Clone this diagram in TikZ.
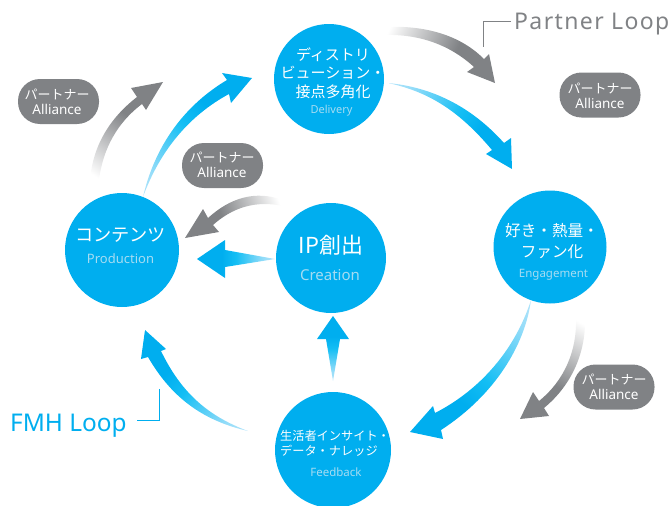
\documentclass[tikz,border=0pt]{standalone}
\usepackage{fontspec}
\setmainfont{Noto Sans}
\newfontfamily\jp{Noto Sans CJK JP}
\definecolor{cblue}{HTML}{00AEEF}
\definecolor{cbright}{HTML}{14BEF4}
\definecolor{cpale}{HTML}{B4E4FA}
\definecolor{cgray}{HTML}{808285}
\definecolor{csub}{HTML}{A6DCF2}
\pgfdeclarehorizontalshading{blueflow}{200bp}{color(0bp)=(cpale); color(15bp)=(cpale!80!cbright); color(50bp)=(cbright); color(68bp)=(cblue); color(100bp)=(cblue)}
\pgfdeclarehorizontalshading{grayflow}{200bp}{color(0bp)=(white); color(3bp)=(white); color(60bp)=(cgray); color(100bp)=(cgray)}
\newcommand\flowarrow[7]{%
  \coordinate (#2-tail) at (#3,#4);
  \coordinate (#2-tip) at (#5,#6);
  \pgfmathsetmacro\flowang{atan2(#4-(#6),(#5)-(#3))}
  \pgfmathsetmacro\flowlen{veclen((#5)-(#3),(#6)-(#4))/100}
  \begin{scope}
    \clip #7;
    \begin{scope}[shift={(#3,#4)},rotate=\flowang,xscale=\flowlen,xshift=50bp]
      \pgflowlevelsynccm
      \pgfuseshading{#1}
    \end{scope}
  \end{scope}}
\tikzset{
  stage/.style={circle,fill=cblue,draw=none,inner sep=0pt,minimum size=#1},
  pill/.style={rounded corners=22pt,fill=cgray,draw=none,inner sep=0pt,minimum width=81pt,minimum height=45pt},
  ally/.style={text=white,align=center,font=\fontsize{13.5}{15}\selectfont},
  title/.style={text=white,align=center,inner sep=0pt},
  sub/.style={text=csub,inner sep=0pt},
  leader/.style={line width=0.9pt}
}
\newcommand\ally[3]{\node[pill] (#1) at (#2) {}; \node[ally,inner sep=0pt] (#1-t) at (#3) {{\jp\fontsize{13}{15}\selectfont パートナー}\\Alliance};}
\begin{document}
\begin{tikzpicture}[x=1pt,y=-1pt]
\useasboundingbox (0,0) rectangle (672,506);
\clip (0,0) rectangle (672,506);
% stages
\node[stage=110pt] (delivery) at (329,79) {};
\node[stage=114pt] (production) at (122,250) {};
\node[stage=110pt] (creation) at (331,258) {};
\node[stage=113pt] (engagement) at (550,247) {};
\node[stage=116pt] (feedback) at (333,450) {};
% stage texts
\node[title,font=\jp\fontsize{15}{18.5}\selectfont] (delivery-t) at (333,73) {ディストリ\\ビューション・\\接点多角化};
\node[sub,font=\fontsize{11}{13}\selectfont] (delivery-s) at (331.5,111) {Delivery};
\node[title,font=\jp\fontsize{18.2}{20}\selectfont] (production-t) at (120.5,235) {コンテンツ};
\node[sub,font=\fontsize{13}{15}\selectfont] (production-s) at (120.5,258.5) {Production};
\node[title,font=\jp\fontsize{22}{24}\selectfont] (creation-t) at (331,245) {IP創出};
\node[sub,font=\fontsize{15}{17}\selectfont] (creation-s) at (330,275) {Creation};
\node[title,font=\jp\fontsize{15.6}{21}\selectfont] (engagement-t) at (552,241) {好き・熱量・\\ファン化};
\node[sub,font=\fontsize{11.5}{13}\selectfont] (engagement-s) at (553.5,275) {Engagement};
\node[title,font=\jp\fontsize{12.2}{15}\selectfont,align=left] (feedback-t) at (335,443.5) {生活者インサイト・\\データ・ナレッジ};
\node[sub,font=\fontsize{11.5}{13}\selectfont] (feedback-s) at (336,472.5) {Feedback};
% alliance pills
\ally{a1}{58.5,101.5}{57,101.5}
\ally{a2}{222.5,165.5}{222,165}
\ally{a3}{600,95}{600,96}
\ally{a4}{614,387}{614,387}
% arrows
\flowarrow{grayflow}{ga}{94}{180}{163}{82}{(90,180) .. controls (93,145) and (110,118) .. (137,97) -- (131,88) -- (163,82) -- (146,110) -- (142,104) .. controls (118,122) and (103,148) .. (99,180) -- cycle}
\flowarrow{blueflow}{ba}{143}{197}{252}{78}{(143,197) .. controls (155,145) and (185,105) .. (227,80) -- (222,73) -- (252,78) -- (231,103) -- (229,94) .. controls (190,115) and (160,150) .. (143,197) -- cycle}
\flowarrow{grayflow}{gb}{283}{203}{185}{238}{(283,200) .. controls (255,190) and (230,198) .. (208,218) -- (203,209) -- (185,238) -- (219,232) -- (213,225) .. controls (232,208) and (255,200) .. (283,206) -- cycle}
\flowarrow{blueflow}{bb}{275}{259}{197}{259}{(275,259) -- (225,250) -- (225,240) -- (197,259) -- (225,278) -- (225,267) -- cycle}
\flowarrow{blueflow}{bc}{333}{381}{333}{316}{(333,381) -- (340,339) -- (349,339) -- (333,316) -- (317,339) -- (326,339) -- cycle}
\flowarrow{blueflow}{bd}{248}{431}{145}{330}{(248,431) .. controls (200,420) and (170,395) .. (148,357) -- (141,359) -- (145,330) -- (166,349) -- (161,351) .. controls (180,390) and (205,415) .. (248,431) -- cycle}
\flowarrow{blueflow}{be}{388}{83}{512}{169}{(388,83) .. controls (430,87) and (470,105) .. (504,143) -- (511,138) -- (512,169) -- (486,154) -- (492,150) .. controls (460,112) and (430,92) .. (388,83) -- cycle}
\flowarrow{grayflow}{gc}{384}{31}{495}{83}{(384,27) .. controls (425,25) and (460,35) .. (484,59) -- (489,54) -- (495,83) -- (467,72) -- (474,67) .. controls (450,45) and (420,34) .. (384,35) -- cycle}
\flowarrow{blueflow}{bf}{531}{300}{410}{432}{(531,300) .. controls (525,345) and (495,395) .. (441,430) -- (443,439) -- (410,432) -- (433,406) -- (435,413) .. controls (480,390) and (515,350) .. (531,300) -- cycle}
\flowarrow{grayflow}{gd}{580}{318}{520}{419}{(576,318) .. controls (577,350) and (565,380) .. (539,401) -- (533,392) -- (520,419) -- (549,416) -- (544,408) .. controls (572,385) and (586,352) .. (585,318) -- cycle}
% loop labels
\node[anchor=base west,inner sep=0pt,text=cgray,font=\fontsize{23}{25}\selectfont\addfontfeature{LetterSpace=6}] (partner) at (514,29) {Partner Loop};
\coordinate (partner-end) at (483,47);
\draw[leader,cgray] (511,21) -| (partner-end);
\node[anchor=base west,inner sep=0pt,text=cblue,font=\fontsize{24.4}{27}\selectfont] (fmh) at (10,431) {FMH Loop};
\coordinate (fmh-end) at (159,389);
\draw[leader,cblue] (137,420) -| (fmh-end);
\end{tikzpicture}
\end{document}
